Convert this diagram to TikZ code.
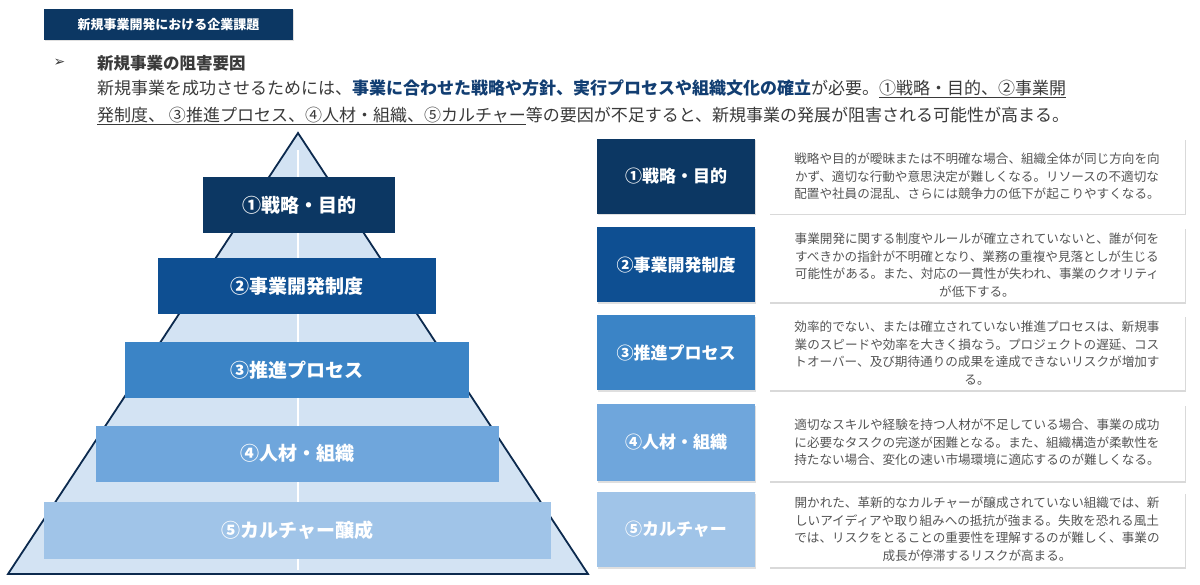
\documentclass[tikz,border=0pt]{standalone}
\usepackage{fontspec}
\setmainfont{Noto Sans CJK JP}
\newfontfamily\jpb{Noto Sans CJK JP}[BoldFont={Noto Sans CJK JP Bold}]
\newfontfamily\symf{DejaVu Sans}
\usetikzlibrary{shadows}
\definecolor{navy}{HTML}{0C3763}
\definecolor{c2}{HTML}{0E4F92}
\definecolor{c3}{HTML}{3B84C6}
\definecolor{c4}{HTML}{6FA6DC}
\definecolor{c5}{HTML}{A0C4E8}
\definecolor{pyr}{HTML}{D3E3F3}
\definecolor{edge}{HTML}{0C2A4E}
\definecolor{txt}{HTML}{3A3A3A}
\definecolor{gtxt}{HTML}{555555}
\definecolor{blu}{HTML}{123E72}
\begin{document}
\begin{tikzpicture}[x=1pt,y=-1pt,
  bar/.style={minimum height=56pt,text=white,font=\fontsize{19}{19}\selectfont\bfseries,inner sep=0pt},
  lab/.style={minimum width=158pt,minimum height=75pt,text=white,font=\fontsize{17}{17}\selectfont\bfseries,inner sep=0pt,drop shadow={shadow xshift=1pt,shadow yshift=-1.5pt,opacity=.25}},
  desc/.style={fill=white,minimum width=416pt,minimum height=75pt,align=center,text=gtxt,font=\fontsize{12.6}{17.5}\selectfont,inner sep=0pt,drop shadow={shadow xshift=1pt,shadow yshift=-1.5pt,opacity=.3}}]
\useasboundingbox (0,0) rectangle (1200,585);
% header
\node[fill=navy,minimum width=249pt,minimum height=31pt,text=white,font=\fontsize{13}{13}\selectfont\bfseries,inner sep=0pt,drop shadow={shadow xshift=1pt,shadow yshift=-1.5pt,opacity=.25}] (hdr) at (168.5,24.5) {新規事業開発における企業課題};
\node[anchor=west,text=txt,font=\symf\fontsize{14}{14}\selectfont] (arr) at (50,63) {➢};
\node[anchor=west,text=txt,font=\fontsize{16.5}{16.5}\selectfont\bfseries,inner sep=0pt] (ttl) at (97,63) {新規事業の阻害要因};
\node[anchor=west,text=txt,font=\fontsize{17}{17}\selectfont,inner sep=0pt] (l2) at (97,89) {新規事業を成功させるためには、\textcolor{blu}{\bfseries 事業に合わせた戦略や方針、実行プロセスや組織文化の確立}が必要。\underline{①戦略・目的、②事業開}};
\node[anchor=west,text=txt,font=\fontsize{17}{17}\selectfont,inner sep=0pt] (l3) at (97,116) {\underline{発制度、 ③推進プロセス、④人材・組織、⑤カルチャー}等の要因が不足すると、新規事業の発展が阻害される可能性が高まる。};
% pyramid
\coordinate (apex) at (298,133);
\coordinate (bl) at (8,574);
\coordinate (br) at (588,574);
\draw[edge,line width=1.8pt,fill=pyr,line join=miter] (apex) -- (br) -- (bl) -- cycle;
\draw[white,line width=1.5pt] (298,150) -- (298,570);
\node[bar,fill=navy,minimum width=192pt] (b1) at (299,205) {①戦略・目的};
\node[bar,fill=c2,minimum width=278pt] (b2) at (297,286.5) {②事業開発制度};
\node[bar,fill=c3,minimum width=344pt] (b3) at (297,370) {③推進プロセス};
\node[bar,fill=c4,minimum width=403pt] (b4) at (297.5,453.5) {④人材・組織};
\node[bar,fill=c5,minimum width=507pt,minimum height=57pt] (b5) at (297.5,530.5) {⑤カルチャー醸成};
% right
\node[lab,fill=navy] (r1) at (676,176.5) {①戦略・目的};
\node[lab,fill=c2] (r2) at (676,265) {②事業開発制度};
\node[lab,fill=c3] (r3) at (676,353) {③推進プロセス};
\node[lab,fill=c4,minimum height=77pt] (r4) at (676,442.5) {④人材・組織};
\node[lab,fill=c5] (r5) at (676,529.5) {⑤カルチャー};
\node[desc] (d1) at (977,176.5) {戦略や目的が曖昧または不明確な場合、組織全体が同じ方向を向\\かず、適切な行動や意思決定が難しくなる。リソースの不適切な\\配置や社員の混乱、さらには競争力の低下が起こりやすくなる。};
\node[desc] (d2) at (977,265) {事業開発に関する制度やルールが確立されていないと、誰が何を\\すべきかの指針が不明確となり、業務の重複や見落としが生じる\\可能性がある。また、対応の一貫性が失われ、事業のクオリティ\\が低下する。};
\node[desc] (d3) at (977,353) {効率的でない、または確立されていない推進プロセスは、新規事\\業のスピードや効率を大きく損なう。プロジェクトの遅延、コス\\トオーバー、及び期待通りの成果を達成できないリスクが増加す\\る。};
\node[desc,minimum height=77pt] (d4) at (977,442.5) {適切なスキルや経験を持つ人材が不足している場合、事業の成功\\に必要なタスクの完遂が困難となる。また、組織構造が柔軟性を\\持たない場合、変化の速い市場環境に適応するのが難しくなる。};
\node[desc] (d5) at (977,529.5) {開かれた、革新的なカルチャーが醸成されていない組織では、新\\しいアイディアや取り組みへの抵抗が強まる。失敗を恐れる風土\\では、リスクをとることの重要性を理解するのが難しく、事業の\\成長が停滞するリスクが高まる。};
\end{tikzpicture}
\end{document}
